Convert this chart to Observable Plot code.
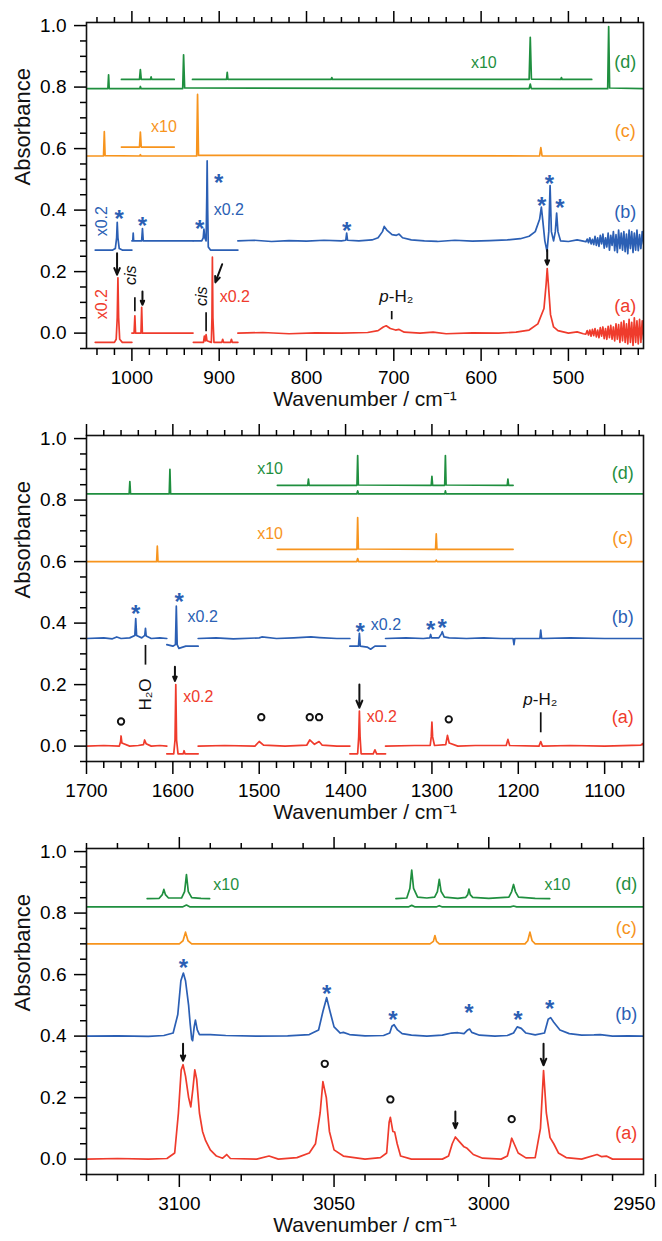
<!DOCTYPE html>
<html><head><meta charset="utf-8">
<script src="https://cdn.jsdelivr.net/npm/d3@7"></script>
<script src="https://cdn.jsdelivr.net/npm/@observablehq/plot@0.6"></script>
<style>body{margin:0;background:#fff;} #chart svg{display:block;}</style>
</head><body><div id="chart"></div>
<script>
const COLORS = {d:"#1f8f3f", c:"#f7941d", b:"#2b5fb4", a:"#ef3b2c"};

// ---------------- Panel 1 (1052–414 cm-1) ----------------
const p1XMajor = [1000,900,800,700,600,500];
const g1_main = [[1052,0.795],[1027.5,0.795],[1026.7,0.84],[1026,0.795],[991,0.795],[990.3,0.802],[989.5,0.795],[941.8,0.795],[940.8,0.905],[939.6,0.797],[545,0.795],[543.7,0.81],[542.5,0.795],[455,0.795],[453.9,0.997],[452.8,0.797],[414,0.795]];
const g1_x10a = [[1012,0.825],[991.3,0.825],[990.3,0.857],[989.3,0.825],[978.8,0.825],[978,0.833],[977.2,0.825],[951.5,0.825]];
const g1_x10b = [[930.6,0.825],[891.6,0.825],[890.8,0.848],[890,0.825],[771.8,0.825],[771,0.831],[770.2,0.825],[545,0.825],[543.7,0.962],[542.4,0.826],[508.8,0.825],[508,0.831],[507.2,0.825],[473.3,0.825]];
const o1_main = [[1052,0.576],[1032.5,0.576],[1031.6,0.655],[1030.7,0.577],[991,0.576],[990.3,0.58],[989.5,0.576],[925.8,0.576],[924.8,0.776],[923.7,0.578],[533,0.576],[531.6,0.603],[530.2,0.576],[414,0.576]];
const o1_x10 = [[1012,0.605],[991.3,0.605],[990.3,0.654],[989.3,0.605],[951.5,0.605]];
const b1_a = [[1042,0.27],[1022,0.27],[1019,0.275],[1017.5,0.31],[1016.8,0.36],[1016,0.31],[1014.5,0.275],[1011,0.27],[1000,0.27]];
const b1_b = [[1000,0.30],[999,0.30],[998.5,0.325],[998,0.30],[988.8,0.30],[987.9,0.34],[987,0.30],[960,0.30],[930,0.30]];
const b1_c = [[929.6,0.30],[920,0.30],[918.3,0.31],[917.5,0.338],[916.5,0.31],[915,0.30],[914.2,0.45],[913.8,0.56],[913.2,0.40],[912.5,0.28],[910,0.27],[900,0.27],[878.6,0.27]];
const b1_d = [[878.6,0.30],[860,0.302],[840,0.298],[820,0.301],[800,0.299],[780,0.302],[760,0.30],[755,0.302],[754,0.325],[753,0.302],[740,0.30],[725,0.303],[718,0.31],[713,0.33],[711,0.347],[708,0.335],[702,0.32],[697,0.318],[694,0.322],[690,0.31],[680,0.303],[665,0.30],[650,0.298],[630,0.302],[610,0.299],[590,0.301],[570,0.303],[555,0.307],[545,0.315],[538,0.33],[533,0.37],[531,0.41],[529.5,0.37],[527,0.30],[524.5,0.266],[522.5,0.33],[521,0.48],[519.5,0.33],[517,0.30],[515,0.33],[513.5,0.39],[512,0.33],[509,0.30],[500,0.298],[490,0.303],[483,0.299],
  [480,0.297],[478.5,0.306],[477,0.294],[475.5,0.31],[474,0.29],[472.5,0.305],[471,0.288],[469.5,0.315],[468,0.285],[466.5,0.31],[465,0.282],[463.5,0.318],[462,0.29],[460.5,0.322],[459,0.276],[457.5,0.31],[456,0.28],[454.5,0.325],[453,0.27],[451.5,0.318],[450,0.285],[448.5,0.33],[447,0.268],[445.5,0.32],[444,0.262],[442.5,0.335],[441,0.275],[439.5,0.325],[438,0.27],[436.5,0.33],[435,0.265],[433.5,0.322],[432,0.258],[430.5,0.335],[429,0.275],[427.5,0.33],[426,0.262],[424.5,0.325],[423,0.27],[421.5,0.335],[420,0.268],[418.5,0.32],[417,0.275],[415.5,0.33],[414,0.29]];
const r1_a = [[1042,-0.03],[1020,-0.03],[1018,-0.02],[1016.8,0.05],[1016,0.18],[1015.2,0.05],[1014,-0.02],[1011,-0.03],[1000,-0.03]];
const r1_b = [[1000,0.0],[997.5,0.0],[996.6,0.056],[995.8,0.0],[989.6,0.0],[988.8,0.084],[988,0.0],[960,0.0],[930,0.0]];
const r1_c = [[929.6,-0.03],[918,-0.03],[917,-0.01],[916,-0.025],[915,-0.005],[914,-0.025],[909,-0.03],[908.3,0.05],[907.8,0.247],[907.2,0.05],[906,-0.03],[897,-0.03],[896,-0.02],[895,-0.03],[887,-0.03],[886,-0.02],[885,-0.03],[878.6,-0.03]];
const r1_d = [[878.6,0.0],[850,0.002],[820,-0.002],[790,0.001],[760,0.0],[730,0.002],[718,0.008],[712,0.02],[708.7,0.024],[704,0.015],[698,0.01],[694,0.012],[688,0.003],[670,0.0],[655,0.003],[640,-0.002],[610,0.001],[580,0.0],[560,0.003],[545,0.01],[535,0.03],[528,0.08],[525.5,0.16],[524.3,0.21],[523,0.16],[520.5,0.06],[517,0.02],[512,0.008],[500,0.0],[490,0.004],[483,-0.002],
  [480,-0.003],[478.5,0.008],[477,-0.006],[475.5,0.01],[474,-0.01],[472.5,0.012],[471,-0.008],[469.5,0.015],[468,-0.012],[466.5,0.01],[465,-0.015],[463.5,0.018],[462,-0.01],[460.5,0.02],[459,-0.018],[457.5,0.015],[456,-0.02],[454.5,0.022],[453,-0.015],[451.5,0.025],[450,-0.02],[448.5,0.02],[447,-0.025],[445.5,0.03],[444,-0.02],[442.5,0.028],[441,-0.03],[439.5,0.035],[438,-0.025],[436.5,0.04],[435,-0.03],[433.5,0.03],[432,-0.035],[430.5,0.045],[429,-0.03],[427.5,0.035],[426,-0.04],[424.5,0.05],[423,-0.03],[421.5,0.04],[420,-0.035],[418.5,0.045],[417,-0.03],[415.5,0.04],[414,-0.02]];
const p1Stars = [[1014.6,0.393],[987.9,0.37],[922.3,0.36],[900.5,0.51],[753.9,0.354],[530.6,0.435],[521.8,0.506],[509.7,0.43]];
const p1Arrows = [[1017,0.26,1017,0.19],[987.9,0.135,987.9,0.092],[896.6,0.224,904.4,0.165],[524.3,0.27,524.3,0.222]];
const p1Lines = [[996.6,0.117,0.071],[915,0.068,0.006],[702.4,0.072,0.045]];
const p1Labels = [[435,0.88,"d"],[435,0.656,"c"],[435,0.393,"b"],[435,0.088,"a"]];
const p1Notes = [[611.7,0.88,"x10","d"],[978,0.672,"x10","c"],[906.3,0.40,"x0.2","b"],[899.5,0.117,"x0.2","a"]];
const p1RotNotes = [[1034,0.364,"x0.2","b"],[1034,0.094,"x0.2","a"]];
const p1Cis = [[1001.5,0.188],[920,0.12]];
const p1PH2 = [[696.6,0.12]];

// ---------------- Panel 2 (1700–1055 cm-1) ----------------
const p2XMajor = [1700,1600,1500,1400,1300,1200,1100];
const g2_main = [[1700,0.82],[1650.6,0.82],[1649.8,0.86],[1649,0.82],[1604.2,0.82],[1603.4,0.90],[1602.6,0.82],[1387,0.82],[1386,0.83],[1385,0.82],[1285,0.82],[1284.4,0.83],[1283.6,0.82],[1055,0.82]];
const g2_x10 = [[1479,0.848],[1443.8,0.848],[1443,0.868],[1442.2,0.848],[1386.8,0.848],[1386,0.945],[1385.2,0.849],[1300.8,0.848],[1300,0.877],[1299.2,0.848],[1285.2,0.848],[1284.4,0.945],[1283.6,0.849],[1212.8,0.848],[1212,0.868],[1211.2,0.848],[1206,0.848]];
const o2_main = [[1700,0.60],[1618.8,0.60],[1618,0.65],[1617.2,0.60],[1387,0.60],[1386,0.61],[1385,0.60],[1296,0.60],[1295,0.605],[1294,0.60],[1055,0.60]];
const o2_x10 = [[1479,0.64],[1386.8,0.64],[1386,0.743],[1385.2,0.641],[1295.8,0.64],[1295,0.69],[1294.2,0.64],[1206,0.64]];
const b2_a = [[1700,0.35],[1680,0.352],[1670,0.349],[1665,0.355],[1660,0.35],[1650,0.352],[1644,0.36],[1643,0.415],[1642,0.36],[1636,0.352],[1632.5,0.36],[1631.7,0.383],[1630.9,0.358],[1625,0.35],[1615,0.352],[1607,0.35]];
const b2_b = [[1607,0.33],[1600,0.325],[1597,0.33],[1596,0.455],[1595,0.33],[1593,0.318],[1585,0.325],[1580,0.325],[1570.7,0.325]];
const b2_c = [[1570.7,0.35],[1550,0.352],[1530,0.349],[1500,0.352],[1497,0.355],[1480,0.35],[1460,0.352],[1440,0.355],[1430,0.353],[1410,0.35],[1395,0.35]];
const b2_d = [[1395,0.325],[1385,0.325],[1384,0.367],[1383,0.325],[1375,0.322],[1371,0.315],[1366,0.325],[1353.7,0.325]];
const b2_e = [[1353.7,0.35],[1330,0.352],[1310,0.35],[1302.5,0.352],[1301.5,0.363],[1300.5,0.352],[1292,0.352],[1289,0.365],[1288,0.372],[1286,0.355],[1280,0.352],[1260,0.35],[1240,0.352],[1220,0.35],[1206,0.35],[1205,0.33],[1204,0.35],[1180,0.35],[1175,0.35],[1174,0.377],[1173,0.35],[1140,0.352],[1100,0.35],[1057,0.35]];
const r2_a = [[1700,0.0],[1680,0.002],[1662,0.0],[1660.5,0.015],[1660,0.033],[1659,0.01],[1650,0.0],[1640,0.002],[1634,0.005],[1632.7,0.02],[1631,0.008],[1625,0.0],[1615,0.002],[1607,0.0]];
const r2_b = [[1607,-0.025],[1599,-0.025],[1597.5,0.02],[1596.6,0.20],[1595.7,0.02],[1594,-0.025],[1588,-0.025],[1587,-0.015],[1586,-0.025],[1570.7,-0.025]];
const r2_c = [[1570.7,0.0],[1540,0.002],[1505,0.0],[1500,0.015],[1495,0.003],[1470,0.0],[1445,0.003],[1441.5,0.02],[1436,0.006],[1430.7,0.015],[1427,0.003],[1410,0.0],[1395,0.0]];
const r2_d = [[1395,-0.025],[1386,-0.025],[1384.8,0.03],[1384,0.114],[1383.2,0.03],[1382,-0.025],[1368,-0.025],[1366,-0.012],[1364,-0.025],[1353.7,-0.025]];
const r2_e = [[1353.7,0.0],[1320,0.002],[1302,0.002],[1300.8,0.03],[1300,0.078],[1299.2,0.03],[1297,0.002],[1284,0.005],[1282,0.035],[1280,0.01],[1270,0.0],[1250,0.002],[1214,0.002],[1212,0.022],[1210,0.002],[1176,0.0],[1174,0.015],[1172,0.0],[1140,0.002],[1100,0.0],[1058,0.003],[1056,0.008],[1055,0.002]];
const p2Stars = [[1643,0.452],[1592.7,0.49],[1383,0.394],[1301.5,0.40],[1288,0.406]];
const p2Circles = [[1660,0.08],[1497.6,0.094],[1441.5,0.094],[1430.7,0.094],[1280.5,0.087]];
const p2Arrows = [[1597.6,0.258,1597.6,0.212],[1384,0.20,1384,0.125]];
const p2Lines = [[1631.7,0.329,0.265],[1174,0.11,0.045]];
const p2Labels = [[1079,0.887,"d"],[1079,0.677,"c"],[1079,0.42,"b"],[1079,0.094,"a"]];
const p2Notes = [[1502.4,0.90,"x10","d"],[1502.4,0.69,"x10","c"],[1583,0.42,"x0.2","b"],[1370.7,0.394,"x0.2","b"],[1588,0.161,"x0.2","a"],[1375.6,0.094,"x0.2","a"]];
const p2H2O = [[1631.7,0.168]];
const p2PH2 = [[1174,0.152]];

// ---------------- Panel 3 (3130–2950 cm-1) ----------------
const p3XMajor = [3100,3050,3000,2950];
const g3_main = [[3130,0.82],[3099,0.82],[3097.7,0.826],[3096.5,0.82],[3026,0.82],[3024.9,0.825],[3023.8,0.82],[3017,0.82],[3016,0.824],[3015,0.82],[2993,0.82],[2992,0.823],[2991,0.82],[2950,0.82]];
const g3_x10a = [[3110.4,0.847],[3106.5,0.848],[3105.5,0.86],[3105,0.877],[3104.5,0.86],[3103.5,0.849],[3099.3,0.849],[3098.3,0.87],[3097.7,0.925],[3097.1,0.87],[3096,0.85],[3093,0.848],[3090.2,0.847]];
const g3_x10b = [[3030,0.847],[3026.5,0.849],[3025.5,0.88],[3024.9,0.94],[3024.3,0.88],[3023,0.852],[3020,0.849],[3017.5,0.852],[3016.6,0.87],[3016,0.91],[3015.4,0.87],[3014.3,0.852],[3010,0.848],[3007.5,0.851],[3006.8,0.86],[3006.4,0.878],[3006,0.86],[3005.2,0.851],[3000,0.848],[2993.5,0.852],[2992.6,0.87],[2992,0.893],[2991.4,0.87],[2990.4,0.852],[2985,0.848],[2980.3,0.847]];
const o3_main = [[3130,0.70],[3100,0.70],[3098.8,0.71],[3098,0.738],[3097.2,0.71],[3096,0.70],[3019,0.70],[3017.9,0.708],[3017.4,0.727],[3016.9,0.708],[3016,0.70],[2988.3,0.70],[2987.4,0.71],[2986.7,0.738],[2986,0.71],[2985,0.70],[2950,0.70]];
const b3_main = [[3130,0.40],[3120,0.401],[3110,0.399],[3105,0.402],[3102,0.41],[3100.5,0.47],[3099.5,0.58],[3098.7,0.605],[3098,0.58],[3097,0.50],[3096.5,0.44],[3096,0.39],[3095.7,0.385],[3095.2,0.43],[3094.8,0.452],[3094.2,0.42],[3093.5,0.405],[3090,0.405],[3085,0.402],[3075,0.40],[3065,0.401],[3058,0.405],[3055,0.42],[3053.6,0.48],[3052.4,0.525],[3051.3,0.48],[3050,0.43],[3048,0.41],[3047,0.412],[3045,0.405],[3040,0.401],[3034,0.402],[3032,0.41],[3031.3,0.432],[3030.6,0.437],[3029.5,0.42],[3028,0.408],[3025,0.403],[3020,0.40],[3015,0.403],[3012,0.41],[3010,0.411],[3008,0.408],[3006.8,0.42],[3006.2,0.423],[3005.5,0.412],[3003,0.403],[2998,0.40],[2994,0.402],[2992,0.41],[2990.8,0.43],[2989.5,0.425],[2988,0.41],[2985,0.404],[2982,0.41],[2980.8,0.455],[2980,0.46],[2979,0.445],[2977,0.42],[2974,0.408],[2970,0.403],[2966,0.404],[2964,0.405],[2960,0.40],[2955,0.401],[2950,0.40]];
const r3_main = [[3130,0.0],[3120,0.002],[3110,0.0],[3104,0.002],[3101.5,0.02],[3100.3,0.15],[3099.4,0.29],[3098.8,0.307],[3098,0.27],[3097,0.20],[3096.3,0.17],[3095.6,0.23],[3095,0.29],[3094.4,0.26],[3093.5,0.15],[3092.5,0.09],[3091.5,0.06],[3090,0.03],[3088,0.01],[3086,0.003],[3084.7,0.015],[3083.5,0.002],[3075,0.0],[3071,0.01],[3068,0.0],[3062,0.005],[3058,0.02],[3056,0.05],[3054.5,0.15],[3053.6,0.252],[3052.5,0.20],[3051.5,0.09],[3050,0.03],[3047,0.01],[3040,0.0],[3035,0.005],[3033,0.02],[3032.2,0.12],[3031.8,0.136],[3031,0.09],[3030.4,0.088],[3029.6,0.05],[3028.5,0.01],[3025,0.0],[3015,0.0],[3013,0.01],[3011.8,0.05],[3010.8,0.072],[3009.8,0.06],[3008,0.04],[3007,0.035],[3005,0.015],[3002,0.003],[2996,0.0],[2994,0.01],[2993.2,0.04],[2992.6,0.068],[2991.8,0.05],[2990.5,0.02],[2988,0.004],[2985,0.005],[2983.3,0.10],[2982.3,0.288],[2981.4,0.15],[2980.2,0.07],[2979,0.05],[2977.5,0.02],[2975,0.005],[2970,0.0],[2965,0.015],[2963.5,0.008],[2962,0.01],[2960,0.0],[2950,0.0]];
const p3Stars = [[3098.7,0.644],[3052.4,0.558],[3031,0.473],[3006.4,0.498],[2990.6,0.473],[2980.3,0.509]];
const p3Circles = [[3053,0.31],[3031.8,0.194],[2992.6,0.13]];
const p3Arrows = [[3098.8,0.375,3098.8,0.32],[3010.8,0.155,3010.8,0.10],[2982.3,0.375,2982.3,0.305]];
const p3Labels = [[2955.6,0.893,"d"],[2955.6,0.75,"c"],[2955.6,0.472,"b"],[2955.6,0.084,"a"]];
const p3Notes = [[3089,0.893,"x10","d"],[2982,0.893,"x10","d"]];

const yMajor = [0,0.2,0.4,0.6,0.8,1.0];

const FONT = "'Liberation Sans', Arial, Helvetica, sans-serif";
const X = d => d[0], Y = d => d[1];

function panel(cfg) {
  const yMinor = d3.range(-5, 100, 5).map(v => v / 100).filter(v => !yMajor.some(m => Math.abs(m - v) < 1e-6));
  const xMinor = d3.range(cfg.minorStart, cfg.domain[1] - 1e-6, -cfg.minorStep).filter(v => !cfg.xMajor.includes(v));
  const inner = cfg.xMajor.filter(v => v !== cfg.edgeLabel);
  const marks = [];
  for (const [key, segs] of Object.entries(cfg.traces))
    for (const s of segs) marks.push(Plot.line(s, {x: X, y: Y, stroke: COLORS[key], strokeWidth: 1.7, clip: true}));
  marks.push(Plot.frame({stroke: "#111", strokeWidth: 1.6}));
  marks.push(Plot.axisY(yMajor, {anchor: "left", tickSize: 12, tickPadding: 8, tickFormat: d3.format(".1f"), fontSize: 19, strokeWidth: 1.5, label: null}));
  marks.push(Plot.axisY(yMinor, {anchor: "left", tickSize: 6, tickFormat: () => "", strokeWidth: 1.5, label: null}));
  marks.push(Plot.axisX(inner, {anchor: "bottom", tickSize: 13, tickPadding: 9, tickFormat: d3.format("d"), fontSize: 19, strokeWidth: 1.5, label: null}));
  if (cfg.edgeLabel != null) marks.push(Plot.axisX([cfg.edgeLabel], {anchor: "bottom", tickSize: 13, tickPadding: 9, tickFormat: d3.format("d"), fontSize: 19, strokeWidth: 1.5, label: null, textAnchor: "end", dx: 12}));
  marks.push(Plot.axisX(xMinor, {anchor: "bottom", tickSize: 7, tickFormat: () => "", strokeWidth: 1.5, label: null}));
  marks.push(Plot.axisX(cfg.xMajor, {anchor: "top", tickSize: 12, tickFormat: () => "", strokeWidth: 1.5, label: null}));
  marks.push(Plot.axisX(xMinor, {anchor: "top", tickSize: 6, tickFormat: () => "", strokeWidth: 1.5, label: null}));
  marks.push(Plot.text(["Wavenumber / cm⁻¹"], {frameAnchor: "bottom", dy: 57, fontSize: 21, fill: "#111"}));
  marks.push(Plot.text(["Absorbance"], {frameAnchor: "left", dx: -64, rotate: -90, fontSize: 22, fill: "#111"}));
  // annotations
  if (cfg.lines) marks.push(Plot.link(cfg.lines, {x1: X, x2: X, y1: Y, y2: d => d[2], stroke: "#111", strokeWidth: 1.7}));
  if (cfg.arrows) marks.push(Plot.arrow(cfg.arrows, {x1: d => d[0], y1: d => d[1], x2: d => d[2], y2: d => d[3], stroke: "#111", strokeWidth: 2, headLength: 6, headAngle: 45}));
  if (cfg.stars) marks.push(Plot.text(cfg.stars, {x: X, y: Y, text: () => "*", fill: COLORS.b, fontSize: 24, fontWeight: "bold", dy: 7}));
  if (cfg.circles) marks.push(Plot.dot(cfg.circles, {x: X, y: Y, r: 3.2, stroke: "#111", strokeWidth: 1.9, fill: "none"}));
  for (const l of cfg.labels) marks.push(Plot.text([l], {x: X, y: Y, text: d => `(${d[2]})`, fill: COLORS[l[2]], fontSize: 18}));
  for (const n of (cfg.notes || [])) marks.push(Plot.text([n], {x: X, y: Y, text: d => d[2], fill: COLORS[n[3]], fontSize: 16, textAnchor: "start"}));
  for (const n of (cfg.rotNotes || [])) marks.push(Plot.text([n], {x: X, y: Y, text: d => d[2], fill: COLORS[n[3]], fontSize: 16, rotate: -90}));
  if (cfg.cis) marks.push(Plot.text(cfg.cis, {x: X, y: Y, text: () => "cis", fill: "#111", fontSize: 16, fontStyle: "italic", rotate: -90}));
  if (cfg.h2o) marks.push(Plot.text(cfg.h2o, {x: X, y: Y, text: () => "H₂O", fill: "#111", fontSize: 17, rotate: -90}));
  if (cfg.ph2) {
    marks.push(Plot.text(cfg.ph2, {x: X, y: Y, text: () => "p", fill: "#111", fontSize: 17, fontStyle: "italic", textAnchor: "end", dx: -8}));
    marks.push(Plot.text(cfg.ph2, {x: X, y: Y, text: () => "-H₂", fill: "#111", fontSize: 17, textAnchor: "start", dx: -8}));
  }
  return Plot.plot({
    width: 662, height: 413,
    marginLeft: 86, marginRight: 19, marginTop: 22, marginBottom: 65,
    x: {domain: cfg.domain, axis: null},
    y: {domain: [-0.05, 1.01], axis: null},
    style: {fontFamily: FONT, background: "#fff", overflow: "visible"},
    marks
  });
}

const chart = document.getElementById("chart");
chart.append(panel({
  domain: [1052, 414], xMajor: p1XMajor, minorStart: 1040, minorStep: 20,
  traces: {d: [g1_main, g1_x10a, g1_x10b], c: [o1_main, o1_x10], b: [b1_a, b1_b, b1_c, b1_d], a: [r1_a, r1_b, r1_c, r1_d]},
  stars: p1Stars, arrows: p1Arrows, lines: p1Lines, labels: p1Labels, notes: p1Notes, rotNotes: p1RotNotes, cis: p1Cis, ph2: p1PH2
}));
chart.append(panel({
  domain: [1700, 1055], xMajor: p2XMajor, minorStart: 1680, minorStep: 20,
  traces: {d: [g2_main, g2_x10], c: [o2_main, o2_x10], b: [b2_a, b2_b, b2_c, b2_d, b2_e], a: [r2_a, r2_b, r2_c, r2_d, r2_e]},
  stars: p2Stars, circles: p2Circles, arrows: p2Arrows, lines: p2Lines, labels: p2Labels, notes: p2Notes, h2o: p2H2O, ph2: p2PH2
}));
chart.append(panel({
  domain: [3130, 2950], xMajor: p3XMajor, minorStart: 3130, minorStep: 10, edgeLabel: 2950,
  traces: {d: [g3_main, g3_x10a, g3_x10b], c: [o3_main], b: [b3_main], a: [r3_main]},
  stars: p3Stars, circles: p3Circles, arrows: p3Arrows, labels: p3Labels, notes: p3Notes
}));
</script></body></html>
